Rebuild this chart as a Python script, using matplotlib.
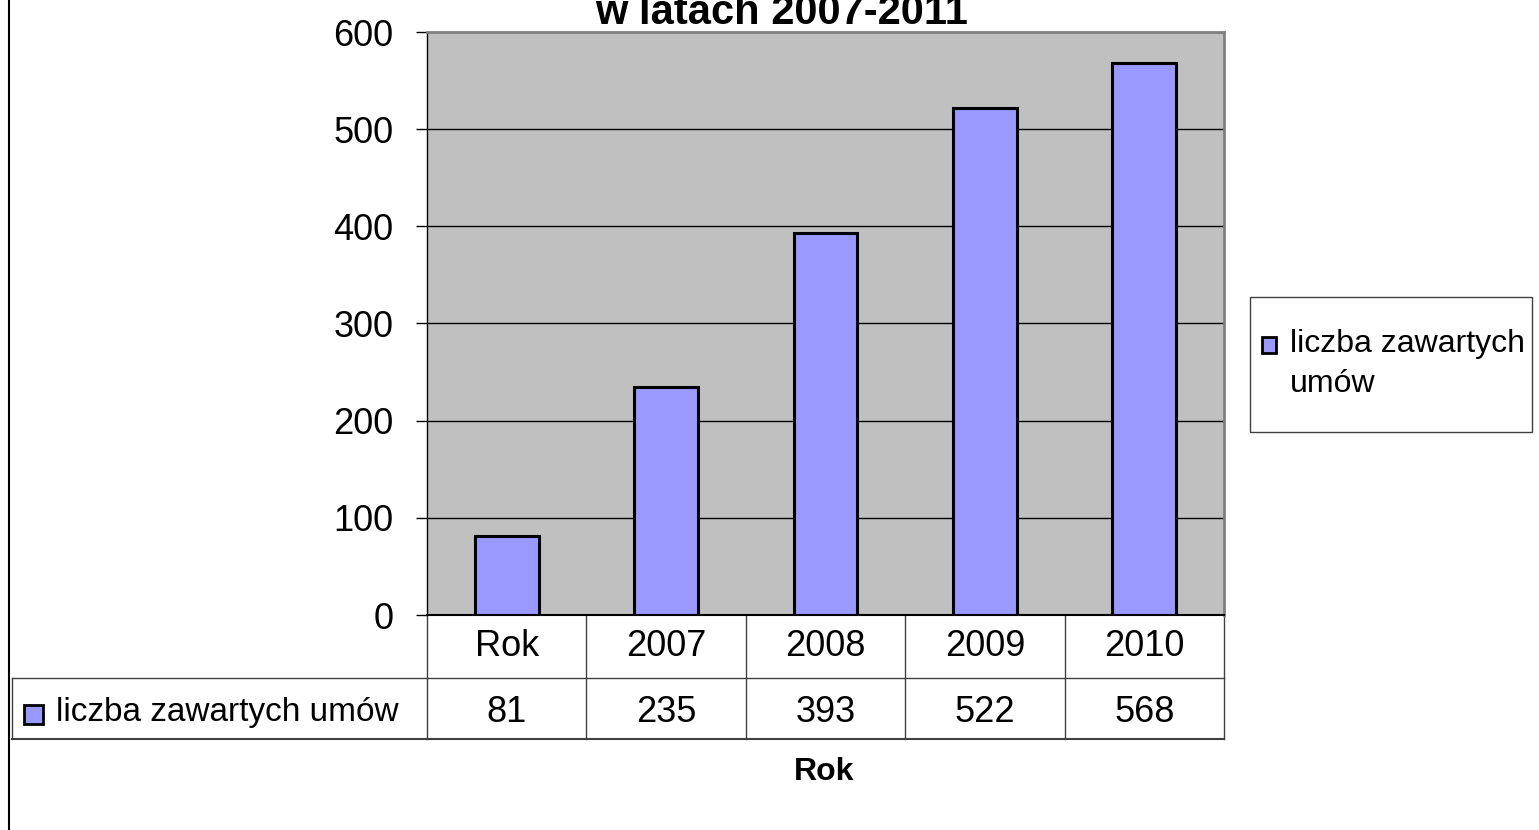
import matplotlib
matplotlib.use("Agg")
import matplotlib.pyplot as plt
from matplotlib.patches import Rectangle
from matplotlib.transforms import blended_transform_factory

categories = ["Rok", "2007", "2008", "2009", "2010"]
values = [81, 235, 393, 522, 568]
series_name = "liczba zawartych umów"
title = "w latach 2007-2011"
xlabel = "Rok"

plt.rcParams['font.family'] = ['Liberation Sans', 'DejaVu Sans']

W, H = 1539, 830
fig = plt.figure(figsize=(W / 100, H / 100), dpi=100)


def fx(x):
    return x / W


def fy(y):
    return 1 - y / H


# plot area (pixels 427..1224 x 32..615)
ax = fig.add_axes([fx(427), fy(615), fx(1224) - fx(427), fy(32) - fy(615)])
ax.set_facecolor("#c0c0c0")
x = list(range(len(categories)))
ax.bar(x, values, width=0.4, color="#9999ff", edgecolor="black", linewidth=2.2, zorder=3)
ax.set_xlim(-0.5, len(categories) - 0.5)
ax.set_ylim(0, 600)
ax.set_yticks([0, 100, 200, 300, 400, 500, 600])
ax.tick_params(axis="y", labelsize=26, length=8, width=1, pad=16)
ax.set_xticks([])
ax.grid(axis="y", color="black", linewidth=1, zorder=1)
ax.spines["top"].set_color("#808080")
ax.spines["right"].set_color("#808080")
ax.spines["top"].set_linewidth(2)
ax.spines["right"].set_linewidth(2)
ax.spines["left"].set_linewidth(1)
ax.spines["bottom"].set_linewidth(1.5)

# data table under the axes
tr = blended_transform_factory(ax.transData, fig.transFigure)
lc = "#404040"
n = len(categories)
y_top, y_mid, y_bot = fy(615), fy(678), fy(739)
for i in range(n + 1):
    ax.plot([i - 0.5, i - 0.5], [y_top, y_bot], transform=tr, color=lc, lw=1, clip_on=False)
ax.plot([-0.5, n - 0.5], [y_mid, y_mid], transform=tr, color=lc, lw=1, clip_on=False)
ax.plot([-0.5, n - 0.5], [y_bot, y_bot], transform=tr, color=lc, lw=1.5, clip_on=False)
for i, (c, v) in enumerate(zip(categories, values)):
    ax.text(i, fy(647), c, transform=tr, ha="center", va="center", fontsize=26)
    ax.text(i, fy(712), str(v), transform=tr, ha="center", va="center", fontsize=26)

# row label cell
fig.add_artist(plt.Line2D([fx(12), fx(427)], [y_mid, y_mid], color=lc, lw=1))
fig.add_artist(plt.Line2D([fx(12), fx(427)], [y_bot, y_bot], color=lc, lw=1.5))
fig.add_artist(plt.Line2D([fx(12), fx(12)], [y_mid, y_bot], color=lc, lw=1))
fig.add_artist(Rectangle((fx(24), fy(724)), fx(19), fy(705) - fy(724), transform=fig.transFigure,
                         facecolor="#9999ff", edgecolor="black", lw=2))
fig.text(fx(56), fy(712), series_name, ha="left", va="center", fontsize=24)

# legend
fig.add_artist(Rectangle((fx(1250), fy(432)), fx(1532) - fx(1250), fy(297) - fy(432),
                         transform=fig.transFigure, facecolor="white", edgecolor="#404040", lw=1))
fig.add_artist(Rectangle((fx(1262), fy(353)), fx(14), fy(337) - fy(353), transform=fig.transFigure,
                         facecolor="#9999ff", edgecolor="black", lw=2))
fig.text(fx(1290), fy(344), "liczba zawartych", ha="left", va="center", fontsize=23)
fig.text(fx(1290), fy(384), "umów", ha="left", va="center", fontsize=23)

# left border line
fig.add_artist(plt.Line2D([fx(9), fx(9)], [0, 1], color="black", lw=1.5))

# title and axis label
fig.text(fx(782), fy(24), title, ha="center", va="baseline", fontsize=30, fontweight="bold")
fig.text(fx(824), fy(772), xlabel, ha="center", va="center", fontsize=23, fontweight="bold")

fig.savefig("out.png", dpi=100)
